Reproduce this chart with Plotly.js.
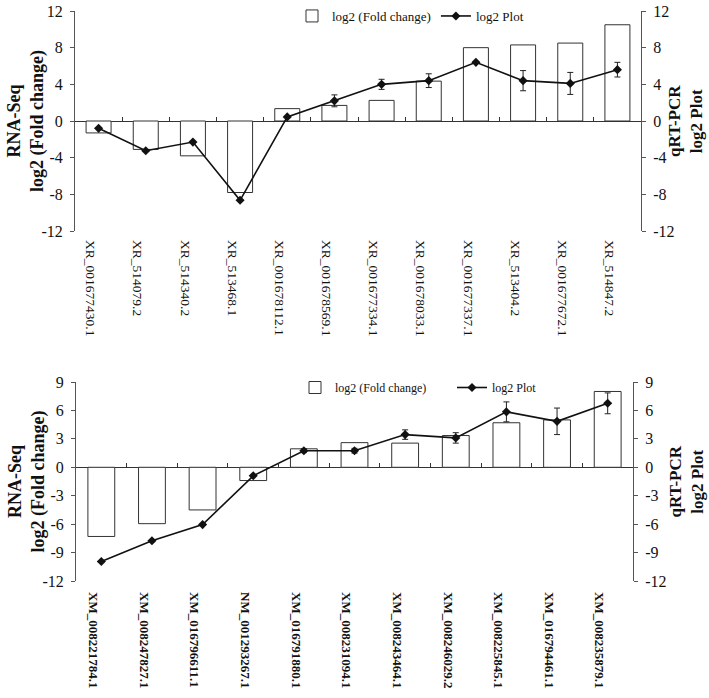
<!DOCTYPE html>
<html>
<head>
<meta charset="utf-8">
<script src="https://cdn.plot.ly/plotly-3.0.1.min.js"></script>
<style>
  html, body { margin: 0; padding: 0; background: #fff; }
  #chart { width: 709px; height: 698px; }
</style>
</head>
<body>
<div id="chart"></div>
<script>
// top panel: lncRNA (XR_) genes
var topGenes = ['XR_001677430.1', 'XR_514079.2', 'XR_514340.2', 'XR_513468.1', 'XR_001678112.1',
  'XR_001678569.1', 'XR_001677334.1', 'XR_001678033.1', 'XR_001677337.1', 'XR_513404.2',
  'XR_001677672.1', 'XR_514847.2'];
var topRnaSeq = [-1.3, -3.1, -3.8, -7.8, 1.35, 1.7, 2.25, 4.35, 8.0, 8.3, 8.5, 10.5];
var topQpcr = [-0.8, -3.25, -2.3, -8.65, 0.45, 2.2, 4.0, 4.4, 6.4, 4.4, 4.1, 5.6];
var topQpcrErr = [0, 0, 0, 0, 0, 0.65, 0.55, 0.75, 0, 1.1, 1.2, 0.8];

// bottom panel: mRNA genes
var botGenes = ['XM_008221784.1', 'XM_008247827.1', 'XM_016796611.1', 'NM_001293267.1', 'XM_016791880.1',
  'XM_008231094.1', 'XM_008243464.1', 'XM_008246029.2', 'XM_008225845.1', 'XM_016794461.1',
  'XM_008235879.1'];
var botRnaSeq = [-7.3, -5.95, -4.5, -1.4, 1.95, 2.6, 2.55, 3.35, 4.7, 5.0, 8.0];
var botQpcr = [-9.95, -7.75, -6.05, -0.9, 1.75, 1.75, 3.45, 3.1, 5.85, 4.85, 6.75];
var botQpcrErr = [0, 0, 0, 0, 0.2, 0.25, 0.5, 0.55, 1.05, 1.4, 1.1];

var topRange = [-12, 12], topStep = 4;
var botRange = [-12, 9], botStep = 3;
var leftTitle = 'RNA-Seq<br>log2 (Fold change)';
var rightTitle = 'qRT-PCR<br>log2 Plot';

var W = 709, H = 698;
var serif = 'Liberation Serif, Times New Roman, serif';
var axisCol = '#555';

// panel placement in pixels
var topBox = {l: 75, r: 641, t: 11, b: 231};
var botBox = {l: 76, r: 633, t: 382, b: 581};
function xdom(b) { return [b.l / W, b.r / W]; }
function ydom(b) { return [1 - b.b / H, 1 - b.t / H]; }
var topYD = ydom(topBox), botYD = ydom(botBox);
function zeroPos(yd, r) { return yd[0] + (-r[0] / (r[1] - r[0])) * (yd[1] - yd[0]); }

// plain hyphen minus on tick labels, like the original
function tickVals(r, s) { var v = []; for (var t = r[0]; t <= r[1]; t += s) v.push(t); return v; }

function barTrace(x, y, xa, ya, lg) {
  return {
    type: 'bar', x: x, y: y, xaxis: xa, yaxis: ya, legend: lg,
    name: 'log2 (Fold change)', width: 0.53,
    marker: {color: '#fff', line: {color: '#333', width: 1}}
  };
}
function lineTrace(x, y, err, xa, ya, lg) {
  return {
    type: 'scatter', mode: 'lines+markers', x: x, y: y, xaxis: xa, yaxis: ya, legend: lg,
    name: 'log2 Plot',
    line: {color: '#111', width: 1.6},
    marker: {symbol: 'diamond', size: 7, color: '#111'},
    error_y: {type: 'data', array: err, visible: true, color: '#222', thickness: 1, width: 3}
  };
}

// the qPCR lines sit on their own x axes, which carry the zero-line ticks
var data = [
  barTrace(topGenes, topRnaSeq, 'x', 'y', 'legend'),
  lineTrace(topGenes, topQpcr, topQpcrErr, 'x3', 'y2', 'legend'),
  barTrace(botGenes, botRnaSeq, 'x2', 'y3', 'legend2'),
  lineTrace(botGenes, botQpcr, botQpcrErr, 'x4', 'y4', 'legend2')
];

function catAxis(dom, anchor, bold, standoff, size, shift) {
  return {
    domain: dom, anchor: anchor, type: 'category',
    showline: false, ticks: '', showgrid: false, zeroline: false,
    tickangle: 90, ticklabelstandoff: standoff, ticklabelshift: shift,
    tickfont: {family: serif, size: size, color: '#111', weight: bold ? 'bold' : 'normal'}
  };
}
// small ticks on the zero line, between the categories
function zeroTickAxis(over, dom, pos, n) {
  return {
    overlaying: over, domain: dom, anchor: 'free', position: pos, type: 'category',
    range: [-0.5, n - 0.5], tickson: 'boundaries',
    ticks: 'inside', ticklen: 4, tickcolor: '#333', tickwidth: 1,
    showticklabels: false, showline: false, showgrid: false, zeroline: false
  };
}
function valAxis(dom, range, step, side, over, anchor) {
  var tv = tickVals(range, step);
  var ax = {
    domain: dom, range: range, side: side, anchor: anchor,
    tickmode: 'array', tickvals: tv, ticktext: tv.map(String),
    showline: true, linecolor: axisCol, linewidth: 1,
    ticks: 'outside', ticklen: 4, tickcolor: axisCol, ticklabelstandoff: 4,
    showgrid: false, zeroline: side === 'left', zerolinecolor: '#333', zerolinewidth: 1,
    tickfont: {family: serif, size: 16, color: '#111'}
  };
  if (over) ax.overlaying = over;
  return ax;
}

function sideTitle(text, xpx, yd, size) {
  return {
    text: text, xref: 'paper', yref: 'paper', x: xpx / W, y: (yd[0] + yd[1]) / 2,
    xanchor: 'center', yanchor: 'middle', textangle: -90, showarrow: false,
    font: {family: serif, size: size, color: '#111', weight: 'bold'}
  };
}

var layout = {
  width: W, height: H,
  margin: {l: 0, r: 0, t: 0, b: 0},
  paper_bgcolor: '#fff', plot_bgcolor: 'rgba(0,0,0,0)',
  barmode: 'overlay',
  xaxis: catAxis(xdom(topBox), 'y', false, 8, 13.5, -8),
  yaxis: valAxis(topYD, topRange, topStep, 'left', null, 'x'),
  yaxis2: valAxis(topYD, topRange, topStep, 'right', 'y', 'x3'),
  xaxis3: zeroTickAxis('x', xdom(topBox), zeroPos(topYD, topRange), topGenes.length),
  xaxis2: catAxis(xdom(botBox), 'y3', true, 10, 13, -8),
  yaxis3: valAxis(botYD, botRange, botStep, 'left', null, 'x2'),
  yaxis4: valAxis(botYD, botRange, botStep, 'right', 'y3', 'x4'),
  xaxis4: zeroTickAxis('x2', xdom(botBox), zeroPos(botYD, botRange), botGenes.length),
  annotations: [
    sideTitle(leftTitle, 26, topYD, 18),
    sideTitle(rightTitle, 686, topYD, 17),
    sideTitle(leftTitle, 26, botYD, 18),
    sideTitle(rightTitle, 686, botYD, 17)
  ],
  legend: {
    orientation: 'h', x: 292 / W, y: 1 - 1 / H, xanchor: 'left', yanchor: 'top',
    bgcolor: 'rgba(0,0,0,0)', font: {family: serif, size: 13, color: '#111'},
    itemwidth: 30, tracegroupgap: 0
  },
  legend2: {
    orientation: 'h', x: 295 / W, y: 1 - 373 / H, xanchor: 'left', yanchor: 'top',
    bgcolor: 'rgba(0,0,0,0)', font: {family: serif, size: 12, color: '#111'},
    itemwidth: 30, tracegroupgap: 0, entrywidth: 112
  },
  showlegend: true
};

Plotly.newPlot('chart', data, layout, {displayModeBar: false, staticPlot: true});
</script>
</body>
</html>
